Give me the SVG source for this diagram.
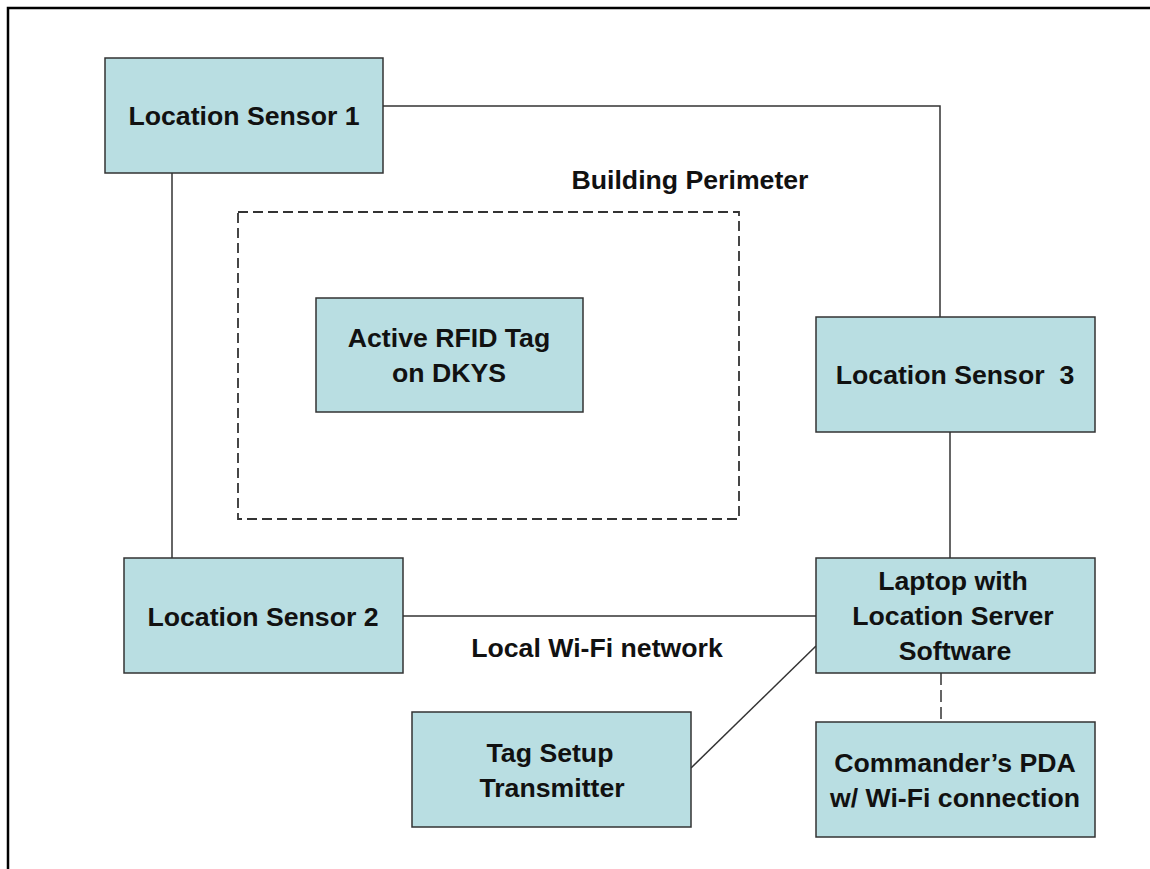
<svg xmlns="http://www.w3.org/2000/svg" width="1150" height="869" viewBox="0 0 1150 869">
<style>
.box{fill:#B9DEE2;stroke:#333;stroke-width:1.5}
.t{font-family:"Liberation Sans",Arial,sans-serif;font-weight:bold;font-size:26.67px;fill:#111;text-anchor:middle;white-space:pre}
.c{fill:none;stroke:#333;stroke-width:1.5}
</style>
<rect width="1150" height="869" fill="#fff"/>
<path d="M8,869 V8 H1150" fill="none" stroke="#000" stroke-width="2.5"/>
<g id="perimeter">
<rect x="238" y="212" width="501" height="307" fill="none" stroke="#333" stroke-width="1.8" stroke-dasharray="10,5"/>
<text class="t" x="690" y="189">Building Perimeter</text>
</g>
<g id="connectors">
<path class="c" d="M383,106 H940 V317"/>
<path class="c" d="M172,173 V558"/>
<path class="c" d="M950,432 V558"/>
<path class="c" d="M403,616 H816"/>
<path class="c" d="M691,768 L816,646"/>
<path class="c" d="M941,673 V722" stroke-dasharray="12,5"/>
<text class="t" x="597" y="657">Local Wi-Fi network</text>
</g>
<g id="ls1">
<rect class="box" x="105" y="58" width="278" height="115"/>
<text class="t" x="244" y="125">Location Sensor 1</text>
</g>
<g id="ls3">
<rect class="box" x="816" y="317" width="279" height="115"/>
<text class="t" x="955" y="384">Location Sensor  3</text>
</g>
<g id="ls2">
<rect class="box" x="124" y="558" width="279" height="115"/>
<text class="t" x="263" y="626">Location Sensor 2</text>
</g>
<g id="rfid">
<rect class="box" x="316" y="298" width="267" height="114"/>
<text class="t" x="449" y="347">Active RFID Tag</text>
<text class="t" x="449" y="382">on DKYS</text>
</g>
<g id="laptop">
<rect class="box" x="816" y="558" width="279" height="115"/>
<text class="t" x="953" y="590">Laptop with</text>
<text class="t" x="953" y="625">Location Server</text>
<text class="t" x="955" y="660">Software</text>
</g>
<g id="tagsetup">
<rect class="box" x="412" y="712" width="279" height="115"/>
<text class="t" x="550" y="762">Tag Setup</text>
<text class="t" x="552" y="797">Transmitter</text>
</g>
<g id="pda">
<rect class="box" x="816" y="722" width="279" height="115"/>
<text class="t" x="955" y="772">Commander’s PDA</text>
<text class="t" x="955" y="807">w/ Wi-Fi connection</text>
</g>
</svg>
